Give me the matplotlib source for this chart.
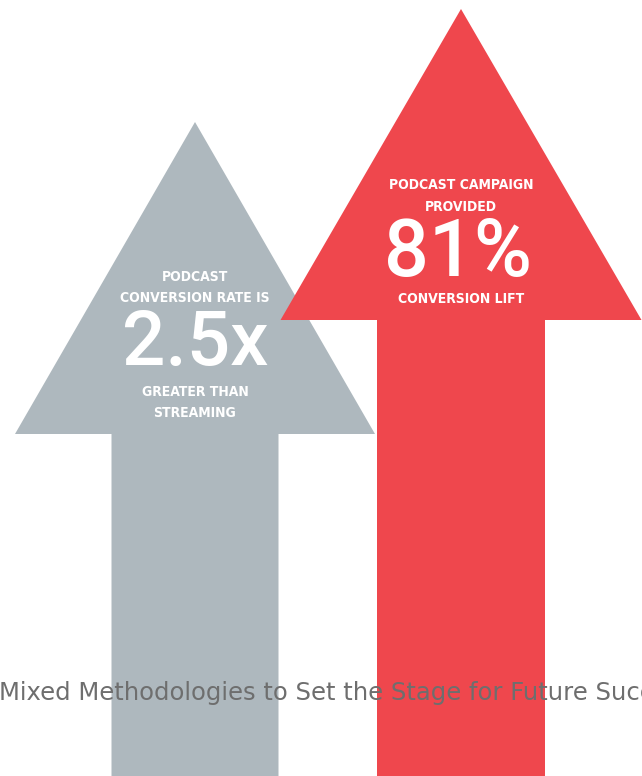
import matplotlib.pyplot as plt
from matplotlib.patches import Polygon

# chart content
labels_top = [['PODCAST', 'CONVERSION RATE IS'], ['PODCAST CAMPAIGN', 'PROVIDED']]
values = ['2.5x', '81%']
labels_bottom = [['GREATER THAN', 'STREAMING'], ['CONVERSION LIFT']]
colors = ['#AEB8BE', '#EF474D']
footer = 'Mixed Methodologies to Set the Stage for Future Succ'

W, H = 642, 776
fig = plt.figure(figsize=(W / 100, H / 100), dpi=100)
ax = fig.add_axes([0, 0, 1, 1])
ax.set_xlim(0, W)
ax.set_ylim(H, 0)
ax.axis('off')

# arrow geometry: tip (x, y), head base y, head half-width, shaft half-width
arrows = [
    dict(cx=195, tip=122, base=434, head=180, shaft=83.5),
    dict(cx=461, tip=9, base=320, head=180.5, shaft=84),
]

for a, c in zip(arrows, colors):
    cx = a['cx']
    pts = [(cx, a['tip']), (cx + a['head'], a['base']), (cx + a['shaft'], a['base']),
           (cx + a['shaft'], H + 5), (cx - a['shaft'], H + 5), (cx - a['shaft'], a['base']),
           (cx - a['head'], a['base'])]
    ax.add_patch(Polygon(pts, closed=True, facecolor=c, edgecolor='none', zorder=2))

small = dict(family=['DejaVu Sans'], stretch='condensed', weight='bold', color='white',
             ha='center', va='center', fontsize=10, zorder=5)
big = dict(family=['Roboto', 'DejaVu Sans'], weight='medium', color='white',
           ha='center', va='center', zorder=5)

# gray arrow text
ax.text(195, 277, labels_top[0][0], **small)
ax.text(195, 298, labels_top[0][1], **small)
ax.text(195, 344, values[0], fontsize=55, **big)
ax.text(195, 392, labels_bottom[0][0], **small)
ax.text(195, 413, labels_bottom[0][1], **small)

# red arrow text
ax.text(461, 185, labels_top[1][0], **small)
ax.text(461, 207, labels_top[1][1], **small)
ax.text(458, 254, values[1], fontsize=57, **big)
ax.text(461, 299, labels_bottom[1][0], **small)

ax.text(-1, 693, footer, family=['DejaVu Sans'], fontsize=17.5, color='#6E6E6E',
        ha='left', va='center', zorder=6)

fig.savefig('out.png', dpi=100)
